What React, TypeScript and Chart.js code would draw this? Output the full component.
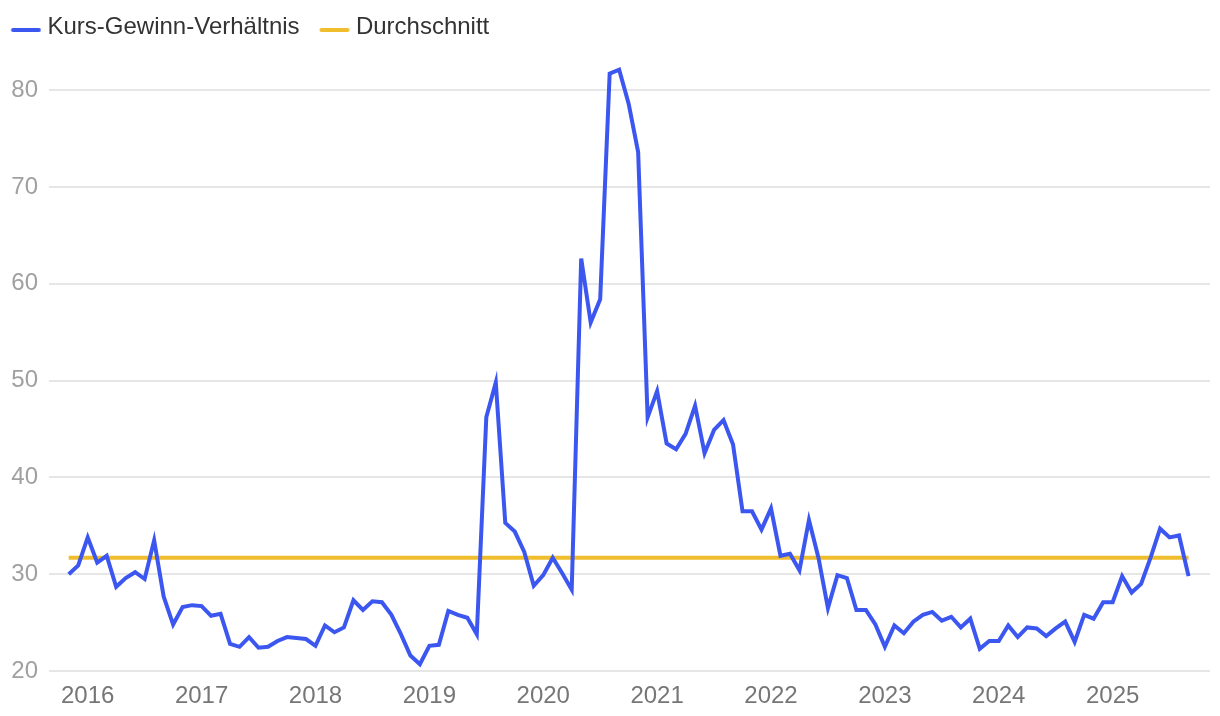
import React, { useEffect, useRef } from 'react';
import { Chart, registerables } from 'chart.js';

Chart.register(...registerables);

// ---- data ----
const startYear = 2015;
const startMonth = 11; // first data point: Nov 2015

const peValues: number[] = [
  30.0, 30.9, 33.8, 31.2, 31.9, 28.7, 29.6, 30.2, 29.5, 33.5, 27.7, 24.8,
  26.6, 26.8, 26.7, 25.7, 25.9, 22.8, 22.5, 23.5, 22.4, 22.5, 23.1, 23.5,
  23.4, 23.3, 22.6, 24.7, 24.0, 24.5, 27.3, 26.3, 27.2, 27.1, 25.8, 23.8,
  21.6, 20.7, 22.6, 22.7, 26.2, 25.8, 25.5, 23.8, 46.2, 49.8, 35.3, 34.4,
  32.3, 28.8, 29.9, 31.7, 30.1, 28.4, 62.6, 56.0, 58.4, 81.7, 82.1, 78.6,
  73.6, 46.2, 48.9, 43.5, 42.9, 44.5, 47.4, 42.5, 44.9, 45.9, 43.4, 36.5,
  36.5, 34.6, 36.8, 31.9, 32.1, 30.4, 35.6, 31.7, 26.5, 29.9, 29.6, 26.3,
  26.3, 24.8, 22.5, 24.7, 23.9, 25.1, 25.8, 26.1, 25.2, 25.6, 24.5, 25.4,
  22.3, 23.1, 23.1, 24.7, 23.5, 24.5, 24.4, 23.6, 24.4, 25.1, 23.0, 25.8,
  25.4, 27.1, 27.1, 29.8, 28.1, 29.0, 31.7, 34.7, 33.8, 34.0, 29.8,
];

const averageValue = 31.7;

const yearTickLabels: string[] = ['2016', '2017', '2018', '2019', '2020', '2021', '2022', '2023', '2024', '2025'];
const yTickValues: number[] = [20, 30, 40, 50, 60, 70, 80];

const seriesNames = ['Kurs-Gewinn-Verhältnis', 'Durchschnitt'];
const seriesColors = ['#3C56F0', '#F0BE2C'];

// month categories (YYYY-MM) for each data point
const months: string[] = peValues.map((_, i) => {
  const m = startMonth - 1 + i;
  return `${startYear + Math.floor(m / 12)}-${String((m % 12) + 1).padStart(2, '0')}`;
});

const FONT = "'Liberation Sans', Arial, Helvetica, sans-serif";

function makeMarker(color: string): HTMLCanvasElement {
  const c = document.createElement('canvas');
  c.width = 41;
  c.height = 14;
  const ctx = c.getContext('2d');
  if (ctx) {
    ctx.strokeStyle = color;
    ctx.lineWidth = 4;
    ctx.lineCap = 'round';
    ctx.beginPath();
    ctx.moveTo(10.65 + 2, 10);
    ctx.lineTo(10.65 + 28, 10);
    ctx.stroke();
  }
  return c;
}

export default function App() {
  const canvasRef = useRef<HTMLCanvasElement | null>(null);

  useEffect(() => {
    document.body.style.margin = '0';
    const canvas = canvasRef.current;
    if (!canvas) return;

    const markers = seriesColors.map(makeMarker);

    const chart = new Chart(canvas, {
      type: 'line',
      data: {
        datasets: [
          {
            label: seriesNames[0],
            data: peValues.map((v, i) => ({ x: i, y: v })),
            borderColor: seriesColors[0],
            backgroundColor: seriesColors[0],
            borderWidth: 4,
            pointRadius: 0,
            pointHoverRadius: 0,
            tension: 0,
          },
          {
            label: seriesNames[1],
            data: months.map((_, i) => ({ x: i, y: averageValue })),
            borderColor: seriesColors[1],
            backgroundColor: seriesColors[1],
            borderWidth: 4,
            pointRadius: 0,
            pointHoverRadius: 0,
            tension: 0,
          },
        ],
      },
      options: {
        responsive: false,
        animation: false,
        devicePixelRatio: 1,
        layout: { padding: { left: -8.8, right: 10, top: 0, bottom: -5.8 } },
        plugins: {
          tooltip: { enabled: false },
          legend: {
            display: true,
            position: 'top',
            align: 'start',
            labels: {
              usePointStyle: true,
              pointStyleWidth: 29.3,
              boxHeight: 4,
              padding: 15,
              color: '#333333',
              font: { family: FONT, size: 24 },
              generateLabels: (ch: any) => {
                const items = Chart.defaults.plugins.legend.labels.generateLabels(ch);
                return items.map((it: any, i: number) => ({ ...it, pointStyle: markers[i], lineWidth: 0 }));
              },
            },
          },
        },
        scales: {
          x: {
            type: 'linear',
            min: -2.08,
            max: 120.26,
            grid: { display: false, drawTicks: false },
            border: { display: false },
            afterBuildTicks: (scale: any) => {
              scale.ticks = months
                .map((m, i) => ({ value: i, m }))
                .filter((t) => t.m.endsWith('-01'))
                .map((t) => ({ value: t.value }));
            },
            ticks: {
              autoSkip: false,
              maxRotation: 0,
              padding: 11,
              color: '#767676',
              font: { family: FONT, size: 24 },
              callback: (value: any) => {
                const m = months[Math.round(Number(value))];
                if (!m) return '';
                const y = m.slice(0, 4);
                return yearTickLabels.includes(y) ? y : '';
              },
            },
          },
          y: {
            type: 'linear',
            min: 20,
            max: 84.24,
            afterBuildTicks: (scale: any) => {
              scale.ticks = yTickValues.map((v) => ({ value: v }));
            },
            afterFit: (scale: any) => {
              scale.width = 57.8;
            },
            grid: { color: '#e6e6e6', lineWidth: 2, drawTicks: false },
            border: { display: false },
            ticks: {
              padding: 11,
              color: '#a0a0a0',
              font: { family: FONT, size: 24 },
            },
          },
        },
      },
    });

    return () => chart.destroy();
  }, []);

  return (
    <div style={{ width: 1220, height: 716 }}>
      <canvas ref={canvasRef} width={1220} height={716} style={{ display: 'block' }} />
    </div>
  );
}
